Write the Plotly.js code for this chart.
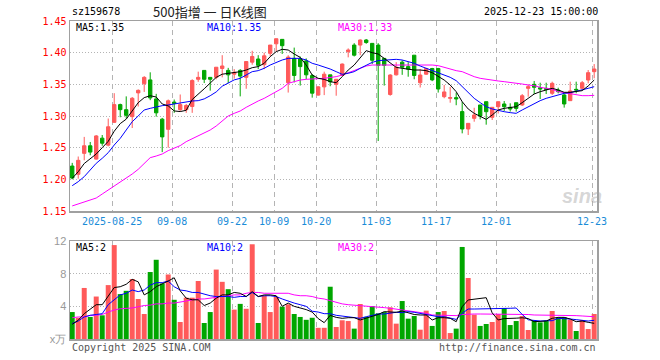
<!DOCTYPE html>
<html><head><meta charset="utf-8">
<script src="https://cdn.plot.ly/plotly-3.0.1.min.js"></script>
<style>html,body{margin:0;padding:0;background:#fff}#chart{width:660px;height:360px}</style>
</head><body><div id="chart"></div>
<script>
const dates = ["2025-08-14","2025-08-15","2025-08-18","2025-08-19","2025-08-20","2025-08-21","2025-08-22","2025-08-25","2025-08-26","2025-08-27","2025-08-28","2025-08-29",
"2025-09-01","2025-09-02","2025-09-03","2025-09-04","2025-09-05","2025-09-08","2025-09-09","2025-09-10","2025-09-11","2025-09-12","2025-09-15","2025-09-16","2025-09-17","2025-09-18","2025-09-19","2025-09-22","2025-09-23","2025-09-24","2025-09-25","2025-09-26","2025-09-29","2025-09-30",
"2025-10-09","2025-10-10","2025-10-13","2025-10-14","2025-10-15","2025-10-16","2025-10-17","2025-10-20","2025-10-21","2025-10-22","2025-10-23","2025-10-24","2025-10-27","2025-10-28","2025-10-29","2025-10-30","2025-10-31",
"2025-11-03","2025-11-04","2025-11-05","2025-11-06","2025-11-07","2025-11-10","2025-11-11","2025-11-12","2025-11-13","2025-11-14","2025-11-17","2025-11-18","2025-11-19","2025-11-20","2025-11-21","2025-11-24","2025-11-25","2025-11-26","2025-11-27","2025-11-28",
"2025-12-01","2025-12-02","2025-12-03","2025-12-04","2025-12-05","2025-12-08","2025-12-09","2025-12-10","2025-12-11","2025-12-12","2025-12-15","2025-12-16","2025-12-17","2025-12-18","2025-12-19","2025-12-22","2025-12-23"];

const open = [1.221,1.208,1.241,1.253,1.232,1.265,1.254,1.290,1.318,1.310,1.299,1.3365,1.351,1.357,1.327,1.295,1.279,1.322,1.310,1.310,
1.315,1.358,1.372,1.361,1.361,1.375,1.372,1.366,1.372,1.361,1.385,1.390,1.381,1.399,1.414,1.421,1.3526,1.391,1.390,1.387,
1.364,1.333,1.346,1.365,1.350,1.364,1.4016,1.412,1.412,1.420,1.4147,1.412,1.391,1.334,1.365,1.385,1.378,1.396,1.3526,1.366,
1.375,1.375,1.3305,1.328,1.329,1.307,1.2795,1.2963,1.3174,1.3226,1.2979,1.3147,1.319,1.3137,1.321,1.3174,1.3437,1.350,1.3447,1.3437,
1.3358,1.341,1.3332,1.3242,1.3421,1.3437,1.3568,1.370];
const high = [1.226,1.236,1.267,1.259,1.270,1.270,1.296,1.336,1.3195,1.331,1.330,1.342,1.363,1.369,1.335,1.297,1.326,1.326,1.334,1.319,
1.358,1.370,1.372,1.361,1.377,1.396,1.376,1.374,1.374,1.386,1.403,1.396,1.400,1.412,1.422,1.4215,1.396,1.408,1.394,1.391,
1.366,1.347,1.370,1.365,1.358,1.383,1.4068,1.415,1.421,1.4216,1.415,1.415,1.391,1.366,1.385,1.388,1.385,1.396,1.374,1.376,
1.376,1.376,1.349,1.346,1.337,1.3226,1.2884,1.313,1.3174,1.3226,1.3137,1.3226,1.3237,1.320,1.321,1.3347,1.350,1.3553,1.3526,1.3526,
1.3542,1.3447,1.3358,1.3542,1.3542,1.3553,1.3726,1.382];
const low = [1.200,1.201,1.230,1.238,1.231,1.253,1.252,1.289,1.298,1.296,1.281,1.315,1.338,1.325,1.299,1.243,1.250,1.305,1.308,1.305,
1.305,1.354,1.352,1.340,1.358,1.361,1.352,1.359,1.331,1.343,1.381,1.374,1.374,1.394,1.402,1.398,1.337,1.353,1.348,1.358,
1.329,1.332,1.333,1.347,1.332,1.364,1.3926,1.394,1.396,1.414,1.382,1.2605,1.348,1.332,1.364,1.365,1.362,1.358,1.345,1.365,
1.355,1.337,1.328,1.321,1.317,1.2726,1.270,1.291,1.2947,1.2863,1.2937,1.304,1.308,1.307,1.307,1.3158,1.3305,1.3347,1.3268,1.3347,
1.3332,1.3358,1.3132,1.3237,1.3358,1.3421,1.3516,1.3595];
const close = [1.202,1.230,1.253,1.243,1.2685,1.257,1.283,1.318,1.310,1.301,1.328,1.3405,1.361,1.3285,1.305,1.267,1.324,1.320,1.318,1.3165,
1.356,1.361,1.358,1.358,1.377,1.379,1.365,1.369,1.363,1.386,1.394,1.380,1.395,1.412,1.422,1.411,1.393,1.364,1.378,1.365,
1.336,1.346,1.366,1.354,1.358,1.382,1.4042,1.396,1.420,1.416,1.388,1.380,1.380,1.3647,1.377,1.377,1.374,1.364,1.3647,1.375,
1.357,1.3426,1.338,1.329,1.327,1.2795,1.2884,1.3016,1.300,1.3068,1.3137,1.3226,1.3147,1.311,1.312,1.332,1.3463,1.3453,1.3426,1.342,
1.3516,1.3384,1.319,1.3395,1.341,1.3526,1.3684,1.3742];

const ma5 = [1.2016,1.212,1.225,1.233,1.240,1.250,1.260,1.276,1.288,1.295,1.308,1.321,1.329,1.332,1.330,1.319,1.316,1.308,1.307,1.309,
1.326,1.334,1.343,1.352,1.361,1.366,1.367,1.368,1.370,1.3726,1.3763,1.378,1.3832,1.3937,1.4016,1.4053,1.4042,1.3979,1.3926,1.3805,
1.3647,1.3595,1.3579,1.3542,1.3526,1.3621,1.3726,1.3805,1.391,1.4032,1.400,1.3979,1.391,1.3832,1.3768,1.3753,1.3737,1.3726,1.3726,1.3716,
1.3684,1.3621,1.3568,1.3489,1.3384,1.3226,1.3111,1.3042,1.2989,1.2947,1.3016,1.3095,1.3121,1.3132,1.3147,1.3211,1.3279,1.3347,1.3384,1.3411,
1.3437,1.3411,1.3374,1.3374,1.3384,1.340,1.3474,1.3568];
const ma10 = [1.190,1.1963,1.2042,1.2147,1.2253,1.2332,1.2421,1.2542,1.2647,1.2779,1.291,1.300,1.3095,1.3121,1.3147,1.3163,1.3174,1.3189,1.3211,1.3226,
1.3237,1.3242,1.327,1.332,1.338,1.347,1.352,1.357,1.3595,1.3647,1.370,1.3716,1.3753,1.3805,1.3847,1.3884,1.391,1.391,1.391,1.3884,
1.3832,1.3805,1.3779,1.3742,1.370,1.3658,1.3674,1.370,1.3753,1.3805,1.3847,1.3874,1.3884,1.3884,1.3895,1.3884,1.3858,1.3832,1.3789,1.3753,
1.3716,1.3684,1.3647,1.3611,1.3558,1.3463,1.3358,1.3279,1.3211,1.3147,1.3111,1.3084,1.3068,1.3053,1.3042,1.3095,1.3147,1.3189,1.3242,1.3279,
1.3305,1.3332,1.3358,1.3368,1.3395,1.3411,1.3437,1.3463];
const ma30 = [1.158,1.161,1.1642,1.1668,1.1705,1.1768,1.1832,1.1884,1.1947,1.2011,1.2084,1.2158,1.2253,1.2342,1.2368,1.240,1.2453,1.2489,1.2532,1.2595,
1.2642,1.2684,1.2737,1.2779,1.2842,1.2926,1.300,1.3042,1.3079,1.3137,1.3189,1.3237,1.3279,1.3332,1.3384,1.3437,1.3516,1.3542,1.3568,1.3579,
1.3579,1.359,1.3595,1.3605,1.3621,1.3647,1.3684,1.3716,1.3753,1.3789,1.3805,1.3805,1.3805,1.3805,1.3805,1.3816,1.3816,1.3816,1.3811,1.3805,
1.3805,1.3795,1.3768,1.3737,1.3716,1.370,1.3658,1.3621,1.3595,1.3579,1.3558,1.3553,1.3542,1.3532,1.3516,1.3505,1.3489,1.3479,1.3453,1.3437,
1.3421,1.3384,1.3368,1.3358,1.3342,1.3321,1.3321,1.3326];

const volume = [3.3,2.6,6.25,2.7,5.2,2.9,6.6,11.5,5.5,5.9,7.35,4.9,3.06,8.2,9.7,6.8,7.9,4.8,2.08,5.06,
5.06,7.1,1.96,3.3,8.5,7.0,6.1,3.6,4.3,3.7,11.6,1.96,5.3,3.3,5.15,3.95,4.25,3.06,2.7,2.35,
2.6,1.37,1.37,6.4,1.47,2.29,2.2,1.27,4.29,2.7,4.04,3.14,3.3,3.88,1.88,4.65,2.49,2.82,1.14,3.47,
1.6,3.3,3.43,0.73,1.27,11.27,7.47,2.98,1.6,1.84,2.08,3.06,3.8,1.71,2.2,2.82,1.1,2.24,2.04,2.24,
3.43,2.65,2.65,2.37,0.98,2.33,1.22,3.06];
const vma5 = [1.8,2.3,3.1,3.7,4.2,4.2,5.2,6.3,6.4,6.7,7.3,7.0,5.4,5.8,6.4,6.7,7.1,7.5,5.9,5.0,
4.8,4.8,4.1,4.4,5.0,5.4,5.4,5.7,5.6,5.2,5.8,5.2,5.4,5.4,5.3,4.0,4.4,4.0,3.8,3.6,
3.3,2.5,2.0,2.9,2.65,2.53,2.61,2.61,2.33,2.53,2.73,3.0,3.35,3.35,3.27,3.43,3.22,3.0,2.94,2.94,
2.33,2.61,2.61,2.53,2.12,3.96,4.78,4.86,4.98,5.06,3.2,2.33,2.5,2.5,2.55,2.6,2.5,2.12,2.12,2.2,
2.53,2.65,2.65,2.45,2.12,2.2,2.04,1.92];
const vma10 = [1.9,2.2,2.7,2.9,3.0,3.1,4.2,4.8,5.4,5.6,6.0,5.8,6.0,6.6,6.9,6.9,7.1,6.4,6.0,5.9,
5.7,5.7,5.5,5.3,5.2,5.2,5.2,5.1,5.2,5.2,5.7,5.2,5.3,5.3,5.2,4.9,4.6,4.4,4.2,4.0,
3.4,3.3,3.1,3.1,2.9,2.8,2.73,2.65,2.53,2.73,2.94,3.06,3.06,3.14,3.27,3.22,3.35,3.27,3.14,3.0,
2.86,2.73,2.73,2.61,2.4,3.14,3.67,3.67,3.67,3.67,3.67,3.67,3.76,3.76,3.8,3.0,2.35,2.25,2.2,2.24,
2.24,2.53,2.53,2.45,2.37,2.33,2.2,2.29];
const vma30 = [2.6,2.7,2.7,2.9,2.9,3.0,3.3,3.55,3.7,3.75,3.8,3.95,4.1,4.15,4.3,4.3,4.4,4.4,4.5,4.65,
4.8,4.9,4.9,5.0,5.1,5.2,5.3,5.4,5.4,5.6,5.7,5.7,5.6,5.6,5.6,5.6,5.6,5.4,5.3,5.3,
5.2,5.0,4.9,4.7,4.5,4.3,4.2,4.15,4.1,4.08,4.0,3.96,3.84,3.76,3.67,3.55,3.43,3.35,3.27,3.14,
2.94,2.94,2.86,2.86,2.86,3.0,3.06,3.06,3.06,3.06,3.06,3.0,3.0,3.0,3.0,3.0,3.0,2.94,2.94,2.94,
2.94,2.94,2.94,2.86,2.86,2.82,2.73,2.73];

const tickDates = ["2025-08-25","2025-09-08","2025-09-22","2025-10-09","2025-10-20","2025-11-03","2025-11-17","2025-12-01","2025-12-23"];
const tickLabels = ["2025-08-25","09-08","09-22","10-09","10-20","11-03","11-17","12-01","12-23"];
const priceTicks = [1.15,1.20,1.25,1.30,1.35,1.40,1.45];
const volTicks = [0,4,8,12];
const volTickLabels = ["x万","4","8","12"];

const symbol = "sz159678";
const chartTitle = "500指增 一 日K线图";
const timeStamp = "2025-12-23 15:00:00";
const priceLegend = ["MA5:1.35","MA10:1.35","MA30:1.33"];
const volLegend = ["MA5:2","MA10:2","MA30:2"];

const RED = "#ff5a5a", GREEN = "#00a600";
const MONO = "DejaVu Sans Mono, monospace";
const idx = dates.map((d, i) => i);
const volColors = idx.map(i => close[i] >= open[i] ? RED : GREEN);

const lineTrace = (y, color, xa, ya) => ({type:'scatter', mode:'lines', x: idx, y: y, xaxis: xa, yaxis: ya,
  line:{color: color, width: 1}, hoverinfo:'skip'});

const traces = [
  {type:'candlestick', x: idx, open: open, high: high, low: low, close: close, xaxis:'x', yaxis:'y',
   increasing:{line:{color:RED, width:1}, fillcolor:RED},
   decreasing:{line:{color:GREEN, width:1}, fillcolor:GREEN}, whiskerwidth:0},
  lineTrace(ma30, '#ff00ff', 'x', 'y'),
  lineTrace(ma10, '#0000ff', 'x', 'y'),
  lineTrace(ma5, '#000000', 'x', 'y'),
  {type:'bar', x: idx, y: volume, xaxis:'x2', yaxis:'y2', marker:{color: volColors, line:{width:0}}},
  lineTrace(vma30, '#ff00ff', 'x2', 'y2'),
  lineTrace(vma10, '#0000ff', 'x2', 'y2'),
  lineTrace(vma5, '#000000', 'x2', 'y2')
];

const tickPos = tickDates.map(d => dates.indexOf(d) - 0.35);
const FRAME = '#a0a0a0';
const xRange = [-0.37, 87.47];
const commonX = {range: xRange, tickmode:'array', tickvals: tickPos, showgrid:true, gridcolor:'#b4b4b4',
  griddash:'5px,4px', gridwidth:1, zeroline:false, showline:true, mirror:true, linecolor:FRAME, linewidth:1.5,
  ticks:'', fixedrange:true};

const PL = 70, PR = 597, PT = 21, PB = 339;
const px = v => (v - PL) / (PR - PL);
const py = v => (PB - v) / (PB - PT);

const ann = (text, x, y, xanchor, color, font, size) => ({text: text, xref:'paper', yref:'paper', x: px(x), y: py(y),
  xanchor: xanchor, yanchor:'middle', showarrow:false, font:{family: font || MONO, size: size || 10, color: color}});

const legendColors = ['#000000','#0000ff','#ff00ff'];
const legendX = [74, 205, 336];

const annotations = [
  ann(symbol, 70, 12, 'left', '#000'),
  ann(chartTitle, 151, 12, 'left', '#222', 'Noto Sans CJK SC, sans-serif', 13),
  ann(timeStamp, 600, 12, 'right', '#000'),
  ann("Copyright 2025 SINA.COM", 70, 347, 'left', '#555'),
  ann("http://finance.sina.com.cn", 598, 347, 'right', '#555'),
  {text:'sina', xref:'paper', yref:'paper', x: px(582), y: py(196), xanchor:'center', yanchor:'middle', showarrow:false,
   font:{family:'Liberation Sans, sans-serif', size:20, color:'rgba(165,165,165,0.45)', style:'italic', weight:'bold'}}
];
priceLegend.forEach((t, i) => annotations.push(ann(t, legendX[i], 27, 'left', legendColors[i])));
volLegend.forEach((t, i) => annotations.push(ann(t, legendX[i], 247, 'left', legendColors[i])));

const layout = {
  width:660, height:360,
  margin:{l:PL, r:660-PR, t:PT, b:360-PB, pad:0},
  paper_bgcolor:'#fff', plot_bgcolor:'#fff',
  showlegend:false, bargap:0.17, boxgap:0.2,
  xaxis: Object.assign({}, commonX, {anchor:'y', domain:[0,1], showticklabels:true, ticktext: tickLabels,
    tickfont:{family: MONO, size:10, color:'#1a8cd8'}, rangeslider:{visible:false}}),
  xaxis2: Object.assign({}, commonX, {anchor:'y2', domain:[0,1], matches:'x', showticklabels:false}),
  yaxis: {domain:[(PB-211)/(PB-PT), 1], range:[1.15, 1.45], tickmode:'array', tickvals: priceTicks,
    ticktext: priceTicks.map(v => v.toFixed(2)), tickfont:{family: MONO, size:10, color:'#ff0000'},
    showgrid:true, gridcolor:'#b4b4b4', griddash:'1px,2px', zeroline:false, showline:true, mirror:true,
    linecolor:FRAME, linewidth:1.5, ticks:'', fixedrange:true},
  yaxis2: {domain:[0, (PB-241)/(PB-PT)], range:[0, 12], tickmode:'array', tickvals: volTicks, ticktext: volTickLabels,
    tickfont:{family:'Liberation Sans, sans-serif', size:11, color:'#999'},
    showgrid:true, gridcolor:'#b4b4b4', griddash:'1px,2px', zeroline:false, showline:true, mirror:true,
    linecolor:FRAME, linewidth:1.5, ticks:'', fixedrange:true},
  annotations: annotations
};

Plotly.newPlot('chart', traces, layout, {displayModeBar:false, staticPlot:true});
</script>
</body></html>
